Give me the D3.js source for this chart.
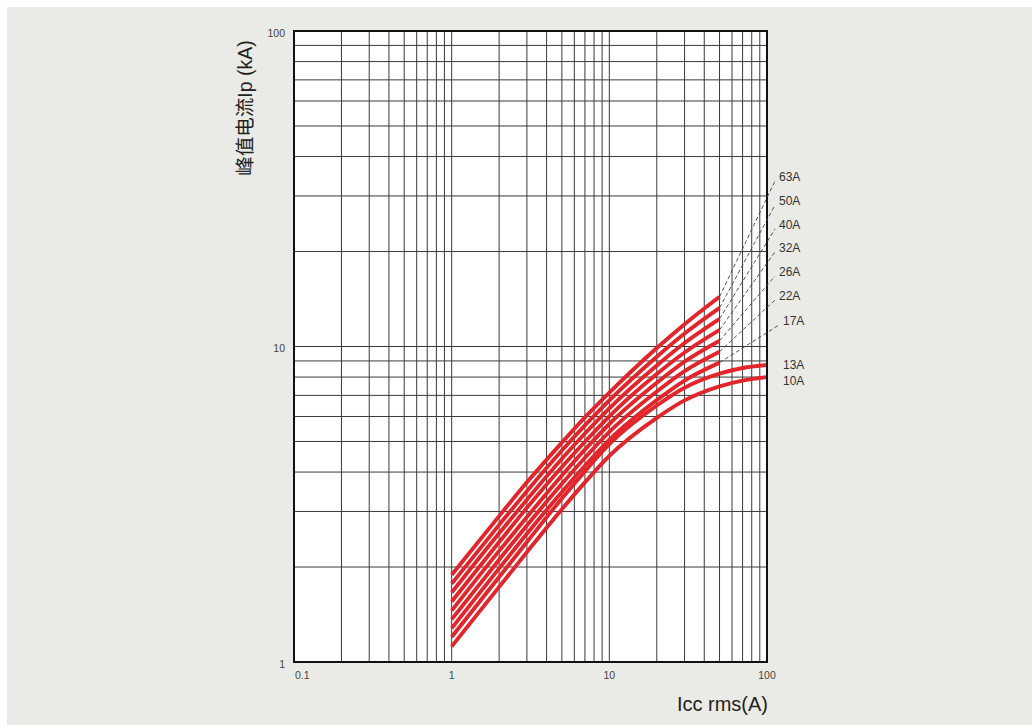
<!DOCTYPE html>
<html>
<head>
<meta charset="utf-8">
<script src="https://cdn.jsdelivr.net/npm/d3@7"></script>
<style>
  html, body { margin: 0; padding: 0; background: #ffffff; }
  svg { display: block; }
</style>
</head>
<body>
<svg id="chart" width="1032" height="728"></svg>
<script>
// ---------- data ----------
const xValues = [1, 2, 3, 5, 7, 10, 20, 30, 50];
const xValuesLong = [1, 2, 3, 5, 7, 10, 20, 30, 50, 70, 100];

const ratings = ["10A", "13A", "17A", "22A", "26A", "32A", "40A", "50A", "63A"];

const ip10A = [1.12, 1.73, 2.23, 3.05, 3.71, 4.50, 5.94, 6.75, 7.48, 7.80, 8.00];
const ip13A = [1.20, 1.86, 2.40, 3.30, 4.02, 4.90, 6.50, 7.40, 8.20, 8.55, 8.74];
const ip17A = [1.28, 1.98, 2.55, 3.46, 4.19, 5.06, 6.76, 7.80, 8.89];
const ip22A = [1.365, 2.11, 2.71, 3.67, 4.44, 5.36, 7.20, 8.36, 9.63];
const ip26A = [1.455, 2.25, 2.88, 3.90, 4.71, 5.68, 7.67, 8.95, 10.43];
const ip32A = [1.555, 2.40, 3.08, 4.15, 4.99, 6.01, 8.18, 9.57, 11.29];
const ip40A = [1.66, 2.56, 3.27, 4.41, 5.30, 6.37, 8.71, 10.26, 12.24];
const ip50A = [1.77, 2.72, 3.48, 4.68, 5.62, 6.75, 9.28, 10.99, 13.26];
const ip63A = [1.89, 2.90, 3.71, 4.96, 5.96, 7.14, 9.89, 11.77, 14.38];

// label anchor levels (kA) on the right of the plot
const labelLevels = [7.71, 8.68, 11.96, 14.35, 17.1, 20.4, 24.1, 28.7, 34.2];
// which curves are extrapolated with a dashed leader
const dashed = [false, false, true, true, true, true, true, true, true];

const xTickLabels = ["0.1", "1", "10", "100"];
const yTickLabels = ["1", "10", "100"];
const xTitle = "Icc rms(A)";
const yTitle = "峰值电流Ip (kA)";

const series = [ip10A, ip13A, ip17A, ip22A, ip26A, ip32A, ip40A, ip50A, ip63A];

// ---------- layout ----------
const svg = d3.select("#chart");
const pL = 294, pR = 767, pT = 31, pB = 662;

const x = d3.scaleLog().domain([0.1, 100]).range([pL, pR]);
const y = d3.scaleLog().domain([1, 100]).range([pB, pT]);

svg.append("rect").attr("x", 7).attr("y", 7).attr("width", 1025).attr("height", 718)
  .attr("fill", "#eaeae7");

svg.append("rect").attr("x", pL).attr("y", pT)
  .attr("width", pR - pL).attr("height", pB - pT).attr("fill", "#ffffff");

// grid
const gGrid = svg.append("g");
x.ticks().filter(v => v > 0.1 && v < 100).forEach(v => {
  gGrid.append("line").attr("x1", x(v)).attr("x2", x(v)).attr("y1", pT).attr("y2", pB)
    .attr("stroke", "#3a3a3a").attr("stroke-width", 1);
});
y.ticks().filter(v => v > 1 && v < 100).forEach(v => {
  gGrid.append("line").attr("y1", y(v)).attr("y2", y(v)).attr("x1", pL).attr("x2", pR)
    .attr("stroke", "#3a3a3a").attr("stroke-width", 1);
});

// curves
const line = d3.line().x(d => x(d[0])).y(d => y(d[1])).curve(d3.curveMonotoneX);
const gCurves = svg.append("g");
series.forEach((s, i) => {
  const xs = s.length > xValues.length ? xValuesLong : xValues;
  const pts = s.map((v, j) => [xs[j], v]);
  gCurves.append("path").attr("d", line(pts))
    .attr("fill", "none").attr("stroke", "#e2252b").attr("stroke-width", 3.9)
    .attr("stroke-linecap", "butt");
});

// frame
svg.append("rect").attr("x", pL).attr("y", pT)
  .attr("width", pR - pL).attr("height", pB - pT)
  .attr("fill", "none").attr("stroke", "#111").attr("stroke-width", 2);

// labels and dashed leaders
const lblFont = "'Liberation Sans Narrow', 'Arial Narrow', 'Liberation Sans', sans-serif";
series.forEach((s, i) => {
  const lx = dashed[i] && i > 2 ? pR + 12 : pR + 16;
  const ly = y(labelLevels[i]);
  if (dashed[i]) {
    const lastX = xValues[xValues.length - 1];
    svg.append("line")
      .attr("x1", x(lastX)).attr("y1", y(s[s.length - 1]))
      .attr("x2", lx - 4).attr("y2", ly + 3)
      .attr("stroke", "#444").attr("stroke-width", 0.9)
      .attr("stroke-dasharray", "4,2.5");
  }
  svg.append("text").attr("x", lx).attr("y", ly)
    .attr("dominant-baseline", "middle")
    .attr("font-family", lblFont).attr("font-size", 12).attr("fill", "#333")
    .text(ratings[i]);
});

// tick labels
const tickFont = "'Liberation Sans', Arial, sans-serif";
const xTickVals = [0.1, 1, 10, 100];
xTickVals.forEach((v, i) => {
  svg.append("text").attr("x", i === 0 ? x(v) + 1 : x(v)).attr("y", 676)
    .attr("dominant-baseline", "middle")
    .attr("text-anchor", i === 0 ? "start" : "middle")
    .attr("font-family", tickFont).attr("font-size", 10.5).attr("fill", "#444")
    .text(xTickLabels[i]);
});
const yTickVals = [1, 10, 100];
yTickVals.forEach((v, i) => {
  svg.append("text").attr("x", 285).attr("y", y(v) + 3)
    .attr("dominant-baseline", "middle").attr("text-anchor", "end")
    .attr("font-family", tickFont).attr("font-size", 10.5).attr("fill", "#444")
    .text(yTickLabels[i]);
});

// axis titles
svg.append("text").attr("x", pR + 1).attr("y", 711)
  .attr("text-anchor", "end")
  .attr("font-family", lblFont).attr("font-size", 20).attr("fill", "#222")
  .text(xTitle);

svg.append("text")
  .attr("transform", `translate(252, 108) rotate(-90)`)
  .attr("text-anchor", "middle")
  .attr("font-family", "'Liberation Sans', 'Noto Sans CJK SC', sans-serif")
  .attr("font-size", 19.5).attr("fill", "#222")
  .text(yTitle);
</script>
</body>
</html>
